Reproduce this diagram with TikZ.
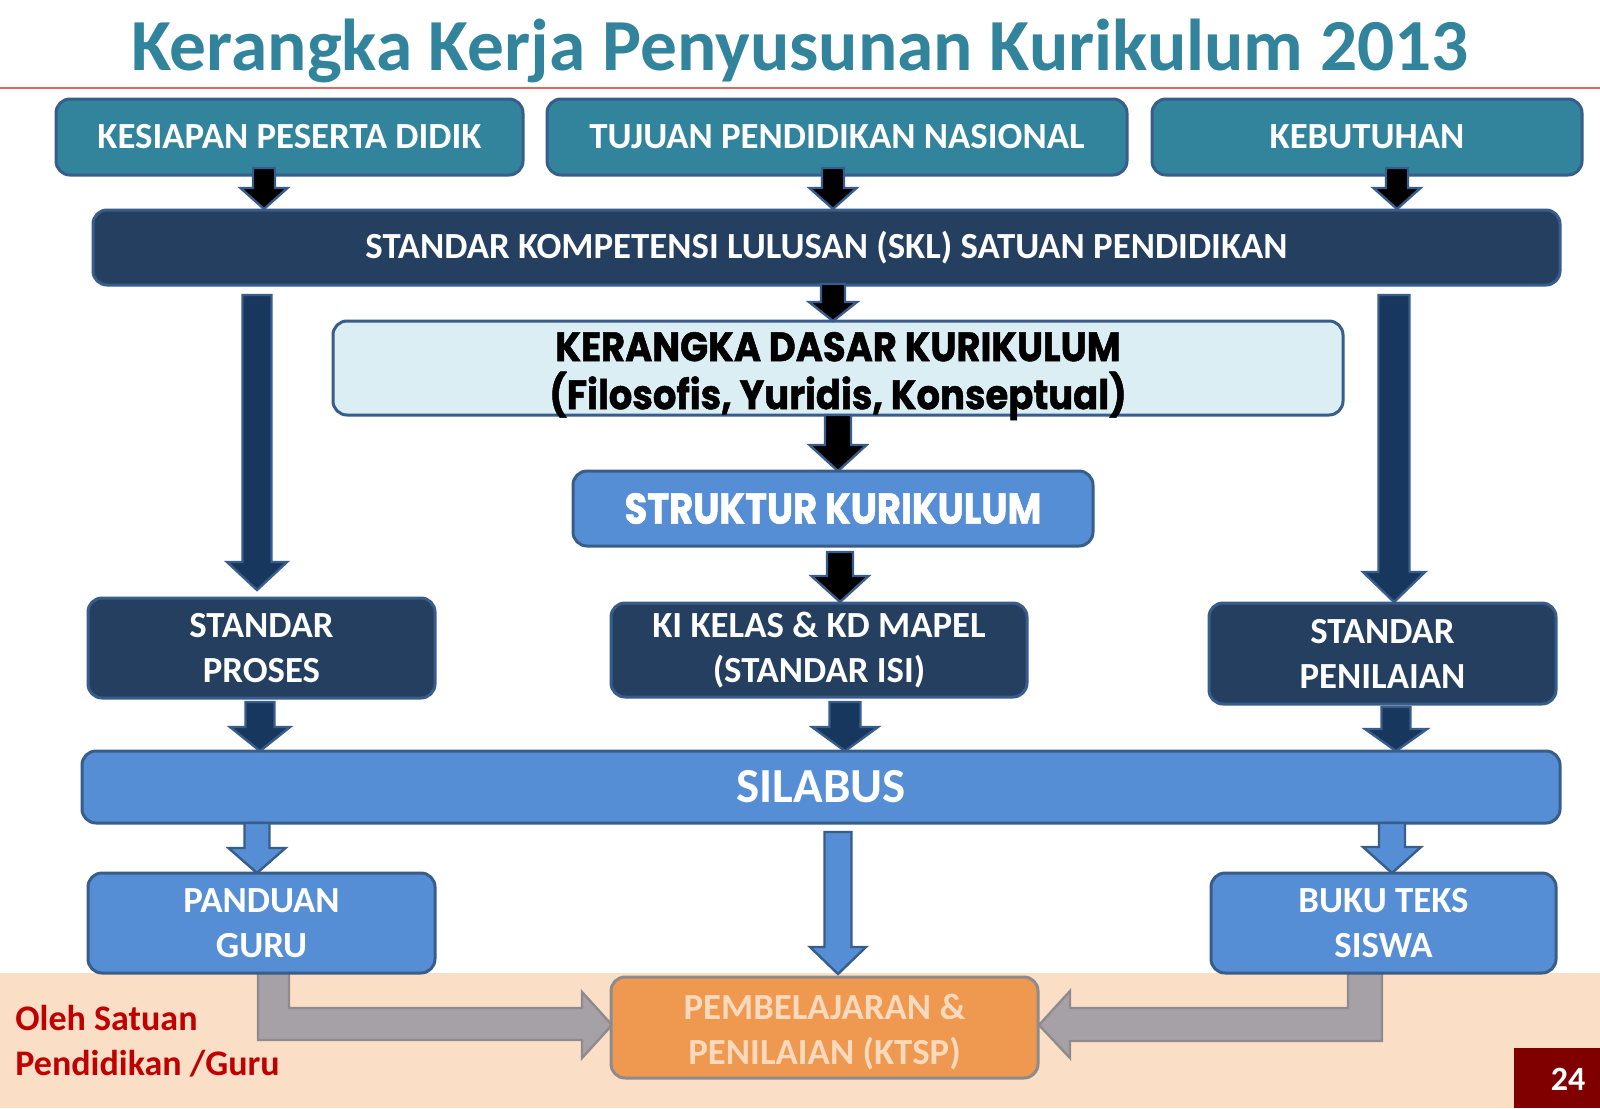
\documentclass[tikz,border=0pt]{standalone}
\usepackage{fontspec}
\setmainfont{Carlito}
\newfontfamily\kfont[FakeStretch=0.9,FakeBold=1.2]{Poppins}
\newfontfamily\sfont[FakeStretch=0.86,FakeBold=1.2]{Poppins}
\definecolor{cTeal}{HTML}{31849B}
\definecolor{cBord}{HTML}{385D8A}
\definecolor{cNavy}{HTML}{243F60}
\definecolor{cNavyA}{HTML}{17375E}
\definecolor{cLBlue}{HTML}{558ED5}
\definecolor{cPale}{HTML}{DBEEF4}
\definecolor{cBand}{HTML}{FADFC6}
\definecolor{cGray}{HTML}{A6A1A6}
\definecolor{cGrayB}{HTML}{8E8A8E}
\definecolor{cOrange}{HTML}{EE9850}
\definecolor{cPeachT}{HTML}{FBD9BC}
\definecolor{cRedT}{HTML}{C00000}
\definecolor{cMaroon}{HTML}{800000}
\definecolor{cLine}{HTML}{E06666}
\newcommand\bx[7]{\node[#2, minimum width={(#5-#3)*0.5pt}, minimum height={(#6-#4)*0.5pt}] (#1) at ({(#3+#5)/2},{(#4+#6)/2}) {#7};}
% style, x, ytop, ybot, shaft width, head width, head length
\newcommand\varr[7]{\draw[#1] ({#2-#5/2},#3) -- ({#2+#5/2},#3) -- ({#2+#5/2},{#4-#7}) -- ({#2+#6/2},{#4-#7}) -- (#2,#4) -- ({#2-#6/2},{#4-#7}) -- ({#2-#5/2},{#4-#7}) -- cycle;}
\begin{document}
\begin{tikzpicture}[x=0.5pt,y=-0.5pt,
  base/.style={rectangle, rounded corners=7pt, line width=1.5pt, draw=cBord, inner sep=0pt, align=center, text=white, font=\bfseries\fontsize{18.4}{22.5}\selectfont},
  tealbox/.style={base, fill=cTeal},
  navybox/.style={base, fill=cNavy},
  bluebox/.style={base, fill=cLBlue},
  palebox/.style={base, fill=cPale},
  orangebox/.style={base, fill=cOrange, draw=cGrayB, text=cPeachT},
  blackarr/.style={fill=black, draw=cBord, line width=1.2pt, line join=miter},
  navyarr/.style={fill=cNavyA, draw=cBord, line width=1.2pt, line join=miter},
  bluearr/.style={fill=cLBlue, draw=cBord, line width=1.2pt, line join=miter},
  grayarr/.style={fill=cGray, draw=cGrayB, line width=1.2pt, line join=miter},
  redtext/.style={text=cRedT, font=\bfseries\fontsize{18}{22.5}\selectfont, inner sep=0pt, anchor=base west}
]
\useasboundingbox (0,0) rectangle (1600,1108);
\fill[white] (0,0) rectangle (1600,1108);
% bottom band
\fill[cBand] (0,973) rectangle (1600,1108);
% title and rule
\node[anchor=base, inner sep=0pt, text=cTeal, font=\bfseries\fontsize{36.7}{40}\selectfont] (title) at (800,70) {Kerangka Kerja Penyusunan Kurikulum 2013};
\draw[cLine, line width=0.7pt] (0,88) -- (1600,88);

% gray elbow arrows
\draw[grayarr] (258,973) -- (289,973) -- (289,1008) -- (582,1008) -- (582,992) -- (612,1025) -- (582,1058) -- (582,1040) -- (258,1040) -- cycle;
\draw[grayarr] (1382,973) -- (1348,973) -- (1348,1008) -- (1070,1008) -- (1070,991) -- (1039,1025) -- (1070,1058) -- (1070,1041) -- (1382,1041) -- cycle;

% boxes
\bx{kpd}{tealbox}{56}{99}{523}{175}{KESIAPAN PESERTA DIDIK}
\bx{tpn}{tealbox}{547}{99}{1127}{175}{TUJUAN PENDIDIKAN NASIONAL}
\bx{keb}{tealbox}{1152}{99}{1582}{175}{KEBUTUHAN}
\bx{skl}{navybox}{93}{210}{1560}{285}{STANDAR KOMPETENSI LULUSAN (SKL) SATUAN PENDIDIKAN}
\bx{kdk}{palebox}{333}{321}{1343}{415}{}
\node[inner sep=0pt, align=center, text=black, font=\kfont\bfseries\fontsize{20.5}{24}\selectfont, yshift=-4pt] (kdkt) at (kdk.center) {KERANGKA DASAR KURIKULUM\\(Filosofis, Yuridis, Konseptual)};
\bx{str}{bluebox, font=\sfont\bfseries\fontsize{21.5}{26}\selectfont}{573}{471}{1093}{546}{STRUKTUR KURIKULUM}
\bx{sp}{navybox}{88}{598}{435}{698}{STANDAR\\PROSES}
\bx{ki}{navybox}{611}{603}{1027}{697}{KI KELAS \& KD MAPEL\\(STANDAR ISI)}
\bx{spn}{navybox}{1209}{603}{1556}{704}{STANDAR\\PENILAIAN}
\bx{sil}{bluebox, font=\bfseries\fontsize{24.5}{28}\selectfont}{82}{751}{1560}{823}{SILABUS}
\bx{pg}{bluebox}{88}{873}{435}{973}{PANDUAN\\GURU}
\bx{bt}{bluebox}{1211}{873}{1556}{973}{BUKU TEKS\\SISWA}
\bx{pk}{orangebox}{611}{977}{1038}{1078}{}
\node[inner sep=0pt, align=center, text=cPeachT, font=\bfseries\fontsize{18.4}{22.5}\selectfont, yshift=-2.5pt] (pkt) at (pk.center) {PEMBELAJARAN \&\\PENILAIAN (KTSP)};

% block arrows
\varr{blackarr}{264}{168}{209}{22}{47}{21}
\varr{blackarr}{833}{168}{209}{22}{47}{21}
\varr{blackarr}{1397}{168}{209}{22}{47}{21}
\varr{navyarr}{257}{295}{590}{29}{60}{28}
\varr{navyarr}{1394}{295}{602}{31}{62}{30}
\varr{blackarr}{833}{284}{321}{24}{48}{19}
\varr{blackarr}{838}{415}{471}{26}{57}{26}
\varr{blackarr}{840}{552}{602}{26}{57}{26}
\varr{navyarr}{260}{702}{751}{29}{60}{24}
\varr{navyarr}{845}{702}{751}{31}{66}{24}
\varr{navyarr}{1396}{707}{751}{29}{62}{22}
\varr{bluearr}{257}{823}{873}{25}{57}{25}
\varr{bluearr}{838}{832}{974}{27}{56}{27}
\varr{bluearr}{1392}{823}{873}{26}{58}{26}

% left label
\node[redtext] (oleh1) at (15,1030) {Oleh Satuan};
\node[redtext] (oleh2) at (15,1075) {Pendidikan /Guru};
% page number
\fill[cMaroon] (1514,1048) rectangle (1600,1108);
\node[text=white, font=\bfseries\fontsize{17}{20}\selectfont, inner sep=0pt, anchor=base] (pnum) at (1568,1090) {24};
\end{tikzpicture}
\end{document}
